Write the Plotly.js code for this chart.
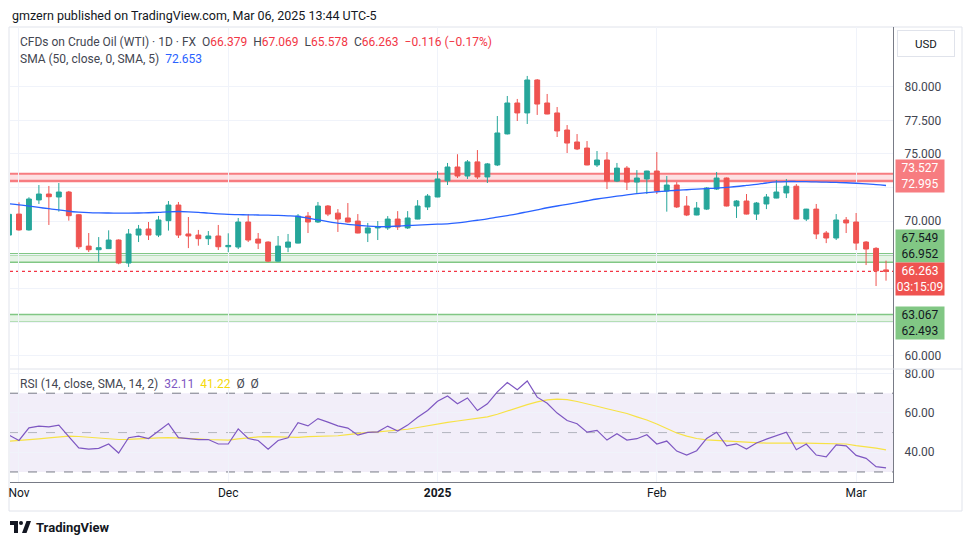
<!DOCTYPE html>
<html><head><meta charset="utf-8">
<script src="https://cdn.plot.ly/plotly-3.0.1.min.js"></script>
<style>html,body{margin:0;padding:0;background:#fff;}#chart{width:970px;height:545px;}</style>
</head><body><div id="chart"></div>
<script>
const dates = ["2024-10-31",
"2024-11-01","2024-11-04","2024-11-05","2024-11-06","2024-11-07","2024-11-08","2024-11-11","2024-11-12","2024-11-13","2024-11-14","2024-11-15","2024-11-18","2024-11-19","2024-11-20","2024-11-21","2024-11-22","2024-11-25","2024-11-26","2024-11-27","2024-11-28","2024-11-29",
"2024-12-02","2024-12-03","2024-12-04","2024-12-05","2024-12-06","2024-12-09","2024-12-10","2024-12-11","2024-12-12","2024-12-13","2024-12-16","2024-12-17","2024-12-18","2024-12-19","2024-12-20","2024-12-23","2024-12-24","2024-12-26","2024-12-27","2024-12-30","2024-12-31",
"2025-01-02","2025-01-03","2025-01-06","2025-01-07","2025-01-08","2025-01-09","2025-01-10","2025-01-13","2025-01-14","2025-01-15","2025-01-16","2025-01-17","2025-01-20","2025-01-21","2025-01-22","2025-01-23","2025-01-24","2025-01-27","2025-01-28","2025-01-29","2025-01-30","2025-01-31",
"2025-02-03","2025-02-04","2025-02-05","2025-02-06","2025-02-07","2025-02-10","2025-02-11","2025-02-12","2025-02-13","2025-02-14","2025-02-17","2025-02-18","2025-02-19","2025-02-20","2025-02-21","2025-02-24","2025-02-25","2025-02-26","2025-02-27","2025-02-28",
"2025-03-03","2025-03-04","2025-03-05","2025-03-06"];

const open = [68.97,
70.53,69.35,71.58,72.02,71.80,72.17,70.48,68.15,67.88,67.96,68.60,66.89,68.97,69.42,68.97,70.04,71.20,69.05,68.97,68.70,68.90,
68.10,68.08,69.94,68.67,68.45,67.03,68.07,68.37,70.38,69.94,71.13,70.60,70.24,70.01,69.12,69.50,69.50,70.16,69.50,70.16,71.06,
71.80,73.00,74.03,73.36,74.41,73.29,74.18,76.49,78.79,78.05,80.50,78.79,78.05,76.78,75.89,75.44,74.18,74.55,72.98,73.95,72.91,73.14,
73.73,72.25,72.69,71.13,70.46,70.90,72.39,73.21,71.13,71.50,70.53,71.28,71.72,72.10,72.60,70.16,70.90,69.12,68.75,70.09,
69.94,68.45,67.98,66.379];
const high = [70.70,
71.40,71.78,72.69,72.62,72.84,72.25,70.52,69.12,68.82,69.32,68.65,69.42,69.72,69.94,70.39,71.50,71.43,70.31,69.35,69.27,69.72,
69.10,70.24,70.53,69.12,68.50,68.90,69.05,70.53,70.68,71.43,71.20,70.90,71.35,70.53,69.87,70.01,70.38,70.75,70.75,71.57,72.02,
73.73,74.33,74.98,74.55,75.29,74.33,77.82,79.31,79.09,80.80,80.57,79.46,78.49,77.15,76.48,75.96,75.22,75.14,74.33,74.10,73.80,73.75,
75.14,73.36,72.91,71.87,71.43,72.54,73.66,73.25,71.57,72.02,71.43,72.02,73.06,73.14,72.76,70.92,71.28,69.27,70.53,70.31,
70.61,68.52,68.07,67.069];
const low = [68.80,
69.30,69.30,71.28,69.72,70.71,70.04,67.93,67.71,66.99,67.93,66.80,66.60,68.45,68.60,68.82,69.30,68.75,68.00,68.18,68.23,67.86,
67.70,67.93,68.45,67.93,66.96,67.00,67.70,68.35,69.12,69.87,70.38,69.20,69.90,69.10,68.45,68.60,69.35,69.35,69.42,70.14,70.83,
71.78,72.69,73.21,73.14,73.14,72.84,74.10,76.45,77.45,77.23,77.90,77.95,76.26,75.07,75.29,74.16,74.03,72.39,72.91,72.32,72.10,72.02,
72.02,70.71,70.98,70.38,70.44,70.83,72.32,71.10,70.24,70.50,70.09,70.90,71.70,71.72,70.14,70.01,68.67,68.37,68.60,69.12,
67.86,66.74,65.18,65.578];
const close = [70.51,
69.35,71.65,72.02,71.82,72.17,70.41,68.10,67.88,68.03,68.60,66.89,69.05,69.42,68.97,70.09,71.20,68.97,68.90,68.70,68.90,68.10,
68.20,69.94,68.60,68.37,67.03,68.15,68.45,70.38,69.94,71.13,70.53,70.16,69.94,69.12,69.50,69.57,70.16,69.57,70.24,71.13,71.87,
73.14,74.03,73.36,74.41,73.29,74.26,76.56,78.79,78.05,80.50,78.71,77.97,76.71,75.81,75.37,74.18,74.55,72.98,73.95,72.91,73.21,73.73,
72.25,72.69,71.06,70.46,70.98,72.47,73.21,71.13,71.50,70.53,71.35,71.80,72.17,72.60,70.16,70.90,69.05,68.75,70.09,69.87,
68.37,67.93,66.31,66.263];

const sma50 = [71.30,71.22,71.12,71.02,70.93,70.84,70.74,70.68,70.64,70.62,
70.61,70.60,70.60,70.61,70.63,70.66,70.70,70.72,70.70,70.66,
70.60,70.55,70.51,70.49,70.47,70.46,70.45,70.43,70.40,70.35,
70.23,70.10,69.97,69.86,69.76,69.70,69.63,69.59,69.60,69.64,
69.68,69.71,69.75,69.78,69.80,69.87,69.97,70.07,70.17,70.30,
70.42,70.55,70.70,70.85,71.00,71.13,71.25,71.38,71.52,71.65,
71.76,71.86,71.95,72.05,72.13,72.19,72.24,72.30,72.34,72.38,
72.42,72.46,72.52,72.58,72.66,72.74,72.84,72.92,72.95,72.95,
72.94,72.92,72.90,72.88,72.86,72.82,72.77,72.72,72.653];

const rsi = [48.7,46.0,52.4,53.3,52.9,53.8,48.0,42.2,41.6,42.0,
44.2,39.6,47.4,48.2,47.0,50.9,54.6,47.4,46.9,46.4,
46.5,44.2,44.2,51.9,47.0,46.0,41.6,46.0,47.4,55.0,
53.4,57.1,55.3,53.4,52.3,48.7,50.1,50.4,53.3,50.8,
53.8,57.8,61.2,65.9,68.6,64.6,67.6,61.2,64.6,70.7,
75.4,71.8,76.2,68.0,64.9,59.9,56.1,54.5,50.2,51.1,
46.2,49.4,46.2,46.9,48.9,44.2,45.7,40.6,38.6,40.8,
47.0,50.2,43.3,44.3,41.6,44.7,46.7,48.4,50.2,41.3,
44.2,38.6,37.7,43.8,43.3,38.4,36.9,32.7,32.11];

const rsiSma = [45.6,45.9,46.3,46.8,47.3,47.8,48.2,48.0,47.6,47.2,
46.8,46.5,46.6,46.9,47.1,47.3,47.4,47.3,47.0,46.8,
46.5,46.3,46.2,46.8,47.3,47.8,47.9,47.7,47.5,47.6,
47.9,48.0,48.0,48.4,49.0,49.6,50.1,50.4,50.8,51.3,
51.7,52.6,53.5,54.5,55.2,55.9,56.6,57.2,58.0,59.3,
61.0,62.7,64.2,65.6,66.6,67.0,66.7,65.8,64.7,63.4,
62.1,61.0,59.7,58.0,56.4,54.4,52.2,49.8,48.2,47.0,
46.3,46.0,45.8,45.5,45.0,44.7,44.6,44.6,44.7,44.7,
44.6,44.5,44.4,44.3,44.2,43.4,42.9,42.1,41.22];

const xTickVals = ["2024-11-01","2024-12-02","2025-01-02","2025-02-03","2025-03-03"];
const xTickText = ["Nov","Dec","<b>2025</b>","Feb","Mar"];
const priceTicks = [60,62.5,65,67.5,70,72.5,75,77.5,80];
// labels hidden behind the price boxes are left blank
const priceTickText = ["60.000","","","","70.000","","75.000","77.500","80.000"];
const rsiTicks = [40,60,80];
const rsiTickText = ["40.00","60.00","80.00"];

const resistance = [72.995, 73.527];
const support1 = [66.952, 67.549];
const support2 = [62.493, 63.067];
const lastPrice = 66.263;

const PL=10, PT=27, PW=883, PH=455;
const px = v => (v-PL)/PW;
const py = v => (PT+PH-v)/PH;

const FONT = "Roboto, 'Liberation Sans', sans-serif";
const TXT = '#131722';
const RED = '#f23645';

const traces = [
  {type:'candlestick', x:dates, open:open, high:high, low:low, close:close, xaxis:'x', yaxis:'y',
   increasing:{line:{color:'#26a69a', width:1}, fillcolor:'#26a69a'},
   decreasing:{line:{color:'#ef5350', width:1}, fillcolor:'#ef5350'},
   whiskerwidth:0, showlegend:false, hoverinfo:'skip'},
  {type:'scatter', mode:'lines', x:dates, y:sma50, xaxis:'x', yaxis:'y',
   line:{color:'#2962ff', width:1.3, shape:'spline'}, showlegend:false, hoverinfo:'skip'},
  {type:'scatter', mode:'lines', x:dates, y:rsiSma, xaxis:'x', yaxis:'y2',
   line:{color:'#f7e245', width:1.2}, showlegend:false, hoverinfo:'skip'},
  {type:'scatter', mode:'lines', x:dates, y:rsi, xaxis:'x', yaxis:'y2',
   line:{color:'#7e57c2', width:1.2}, showlegend:false, hoverinfo:'skip'}
];

function hband(vals, line, fill, wTop, wBot){
  return [
    {type:'rect', xref:'paper', yref:'y', x0:0, x1:1, y0:vals[0], y1:vals[1], fillcolor:fill, line:{width:0}, layer:'between'},
    {type:'line', xref:'paper', yref:'y', x0:0, x1:1, y0:vals[1], y1:vals[1], line:{color:line, width:wTop}, layer:'between'},
    {type:'line', xref:'paper', yref:'y', x0:0, x1:1, y0:vals[0], y1:vals[0], line:{color:line, width:wBot}, layer:'between'}
  ];
}

const shapes = [
  {type:'rect', xref:'paper', yref:'paper', x0:px(9), x1:px(962), y0:py(511), y1:py(27), line:{color:'#e0e3eb', width:1}, fillcolor:'rgba(0,0,0,0)', layer:'below'},
  ...hband(resistance, '#f77c80', 'rgba(242,54,69,0.15)', 2, 2.5),
  ...hband(support1, '#81c784', 'rgba(129,199,132,0.2)', 2.5, 1.5),
  ...hband(support2, '#81c784', 'rgba(129,199,132,0.2)', 1.5, 1.5),
  {type:'line', xref:'paper', yref:'y', x0:0, x1:1, y0:lastPrice, y1:lastPrice, line:{color:'#f23645', width:1.2, dash:'dot'}, layer:'between'},
  {type:'rect', xref:'paper', yref:'y2', x0:0, x1:1, y0:30, y1:70, fillcolor:'rgba(126,87,194,0.1)', line:{width:0}, layer:'between'},
  {type:'line', xref:'paper', yref:'y2', x0:0, x1:1, y0:70, y1:70, line:{color:'#787b86', width:1, dash:'dash'}, layer:'between'},
  {type:'line', xref:'paper', yref:'y2', x0:0, x1:1, y0:50, y1:50, line:{color:'#b2b5be', width:1, dash:'dash'}, layer:'between'},
  {type:'line', xref:'paper', yref:'y2', x0:0, x1:1, y0:30, y1:30, line:{color:'#787b86', width:1, dash:'dash'}, layer:'between'},
  {type:'line', xref:'paper', yref:'paper', x0:0, x1:px(962), y0:py(369), y1:py(369), line:{color:'#e0e3eb', width:1}},
  {type:'path', xref:'paper', yref:'paper', path:`M${px(10)},${py(521)} L${px(18)},${py(521)} L${px(18)},${py(533)} L${px(14)},${py(533)} L${px(14)},${py(525)} L${px(10)},${py(525)} Z`, fillcolor:'#131722', line:{width:0}},
  {type:'circle', xref:'paper', yref:'paper', x0:px(19), x1:px(23), y0:py(525), y1:py(521), fillcolor:'#131722', line:{width:0}},
  {type:'path', xref:'paper', yref:'paper', path:`M${px(22)},${py(533)} L${px(26.5)},${py(521)} L${px(31)},${py(521)} L${px(26.5)},${py(533)} Z`, fillcolor:'#131722', line:{width:0}}
];

const r = s => `<span style="color:${RED}">${s}</span>`;
const sp = '\u00a0';
function boxLabel(text, yPix, bg, fg){
  return {xref:'paper', yref:'paper', x:px(895), y:py(yPix), xanchor:'left', yanchor:'middle',
    text:text, showarrow:false, bgcolor:bg, width:48, height:32, borderpad:0, align:'center',
    font:{family:FONT, size:12, color:fg}};
}

const annotations = [
  {xref:'paper', yref:'paper', x:px(10), y:py(15), xanchor:'left', yanchor:'middle', showarrow:false,
   text:'gmzern published on TradingView.com, Mar 06, 2025 13:44 UTC-5', font:{family:FONT, size:12.5, color:TXT}},
  {xref:'paper', yref:'paper', x:px(18), y:py(42), xanchor:'left', yanchor:'middle', showarrow:false,
   text:'CFDs on Crude Oil (WTI) · 1D · FX'+sp+sp+'O'+r('66.379')+sp+sp+'H'+r('67.069')+sp+sp+'L'+r('65.578')+sp+sp+'C'+r('66.263')+sp+sp+r('−0.116 (−0.17%)'),
   font:{family:FONT, size:12, color:'#434651'}},
  {xref:'paper', yref:'paper', x:px(18), y:py(59), xanchor:'left', yanchor:'middle', showarrow:false,
   text:'SMA (50, close, 0, SMA, 5)'+sp+sp+'<span style="color:#2962ff">72.653</span>',
   font:{family:FONT, size:12, color:'#434651'}},
  {xref:'paper', yref:'paper', x:px(18), y:py(384), xanchor:'left', yanchor:'middle', showarrow:false,
   text:'RSI (14, close, SMA, 14, 2)'+sp+sp+'<span style="color:#7e57c2">32.11</span>'+sp+sp+'<span style="color:#f5d90a">41.22</span>'+sp+sp+'Ø'+sp+sp+'Ø',
   font:{family:FONT, size:12, color:'#434651'}},
  {xref:'paper', yref:'paper', x:px(926), y:py(44), xanchor:'center', yanchor:'middle', showarrow:false,
   text:'USD', width:56, height:25, bordercolor:'#e0e3eb', borderwidth:1, borderpad:0,
   font:{family:FONT, size:11.5, color:TXT}},
  boxLabel('73.527<br>72.995', 176, '#f77c80', '#ffffff'),
  boxLabel('67.549<br>66.952', 246.5, '#81c784', TXT),
  boxLabel('66.263<br>03:15:09', 279, '#ef5350', '#ffffff'),
  boxLabel('63.067<br>62.493', 323, '#81c784', TXT),
  {xref:'paper', yref:'paper', x:px(34), y:py(527), xanchor:'left', yanchor:'middle', showarrow:false,
   text:'<b>TradingView</b>', font:{family:FONT, size:13, color:TXT}}
];

const layout = {
  width:970, height:545,
  margin:{l:PL, r:970-PL-PW, t:PT, b:545-PT-PH, pad:0},
  paper_bgcolor:'#ffffff', plot_bgcolor:'#ffffff',
  font:{family:FONT, size:12, color:TXT},
  showlegend:false,
  xaxis:{type:'category', range:[0.1, 88.7], anchor:'y2', tickmode:'array', tickvals:xTickVals, ticktext:xTickText,
    showgrid:true, gridcolor:'#f0f3fa', gridwidth:1, showline:true, linecolor:'#787b86', linewidth:1,
    ticks:'', tickfont:{family:FONT, size:12, color:TXT}, rangeslider:{visible:false}, fixedrange:true, zeroline:false},
  yaxis:{domain:[py(369),1], range:[59.01, 84.44], side:'right', tickmode:'array', tickvals:priceTicks, ticktext:priceTickText,
    showgrid:true, gridcolor:'#f0f3fa', zeroline:false, showline:true, linecolor:'#787b86', linewidth:1, ticks:'',
    ticklabelstandoff:8, tickfont:{family:FONT, size:12, color:'#434651'}, fixedrange:true},
  yaxis2:{domain:[0,py(369)], range:[24.9, 82.3], side:'right', tickmode:'array', tickvals:rsiTicks, ticktext:rsiTickText,
    showgrid:true, gridcolor:'#f0f3fa', zeroline:false, showline:true, linecolor:'#787b86', linewidth:1, ticks:'',
    ticklabelstandoff:8, tickfont:{family:FONT, size:12, color:'#434651'}, fixedrange:true},
  shapes:shapes,
  annotations:annotations
};

Plotly.newPlot('chart', traces, layout, {displayModeBar:false, staticPlot:true});
</script></body></html>
